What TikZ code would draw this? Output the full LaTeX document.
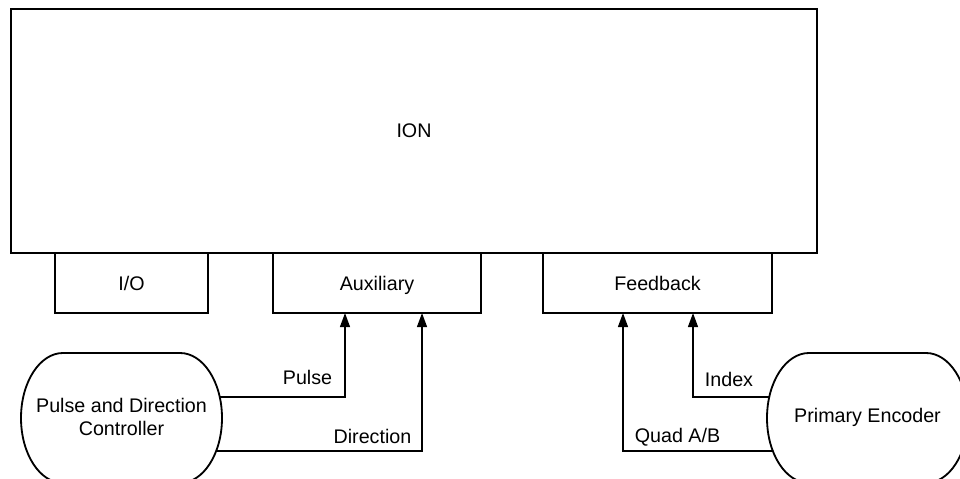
\documentclass[tikz,border=0pt]{standalone}
\usepackage{fontspec}
\setmainfont{Liberation Sans}
\usetikzlibrary{arrows.meta}
\begin{document}
\begin{tikzpicture}[x=0.025cm,y=0.025cm,line width=1.3pt,
	font=\fontsize{14}{17}\selectfont,
	port/.style={draw,minimum height=1.5cm,inner sep=0pt,text depth=0pt},
	sig/.style={-{Triangle[length=10pt,width=7pt]}},
	oval/.style={align=center,inner sep=0pt}]
	\useasboundingbox (0,0) rectangle (960,479);
	\node[draw,minimum width=20.15cm,minimum height=6.1cm] (ion) at (414,348) {ION};
	\node[port,minimum width=3.825cm] (io) at (131.5,196) {I/O};
	\node[port,minimum width=5.2cm] (aux) at (377,196) {Auxiliary};
	\node[port,minimum width=5.725cm] (fb) at (657.5,196) {Feedback};
	% controller
	\draw (63,126) -- (180,126) arc[start angle=90,end angle=-90,x radius=42,y radius=65]
		-- (63,-4) arc[start angle=270,end angle=90,x radius=42,y radius=65] -- cycle;
	\node[oval] (pdc) at (121.5,62) {Pulse and Direction\\Controller};
	% encoder
	\draw (809,126) -- (926,126) arc[start angle=90,end angle=-90,x radius=42,y radius=65]
		-- (809,-4) arc[start angle=270,end angle=90,x radius=42,y radius=65] -- cycle;
	\node[oval] (enc) at (867.5,62) {Primary Encoder};
	\coordinate (pdcP) at (220,82);
	\coordinate (pdcD) at (216,28);
	\coordinate (encI) at (769,82);
	\coordinate (encQ) at (773,28);
	\coordinate (auxP) at (345,166);
	\coordinate (auxD) at (422,166);
	\coordinate (fbQ) at (623,166);
	\coordinate (fbI) at (693,166);
	\draw[sig] (pdcP) -| (auxP);
	\draw[sig] (pdcD) -| (auxD);
	\draw[sig] (encQ) -| (fbQ);
	\draw[sig] (encI) -| (fbI);
	\node[text depth=0pt] (pulse) at (307.5,101.5) {Pulse};
	\node[text depth=0pt] (dir) at (372.5,43) {Direction};
	\node[text depth=0pt] (index) at (729,100) {Index};
	\node[text depth=0pt] (quad) at (677.5,44) {Quad A/B};
\end{tikzpicture}
\end{document}
